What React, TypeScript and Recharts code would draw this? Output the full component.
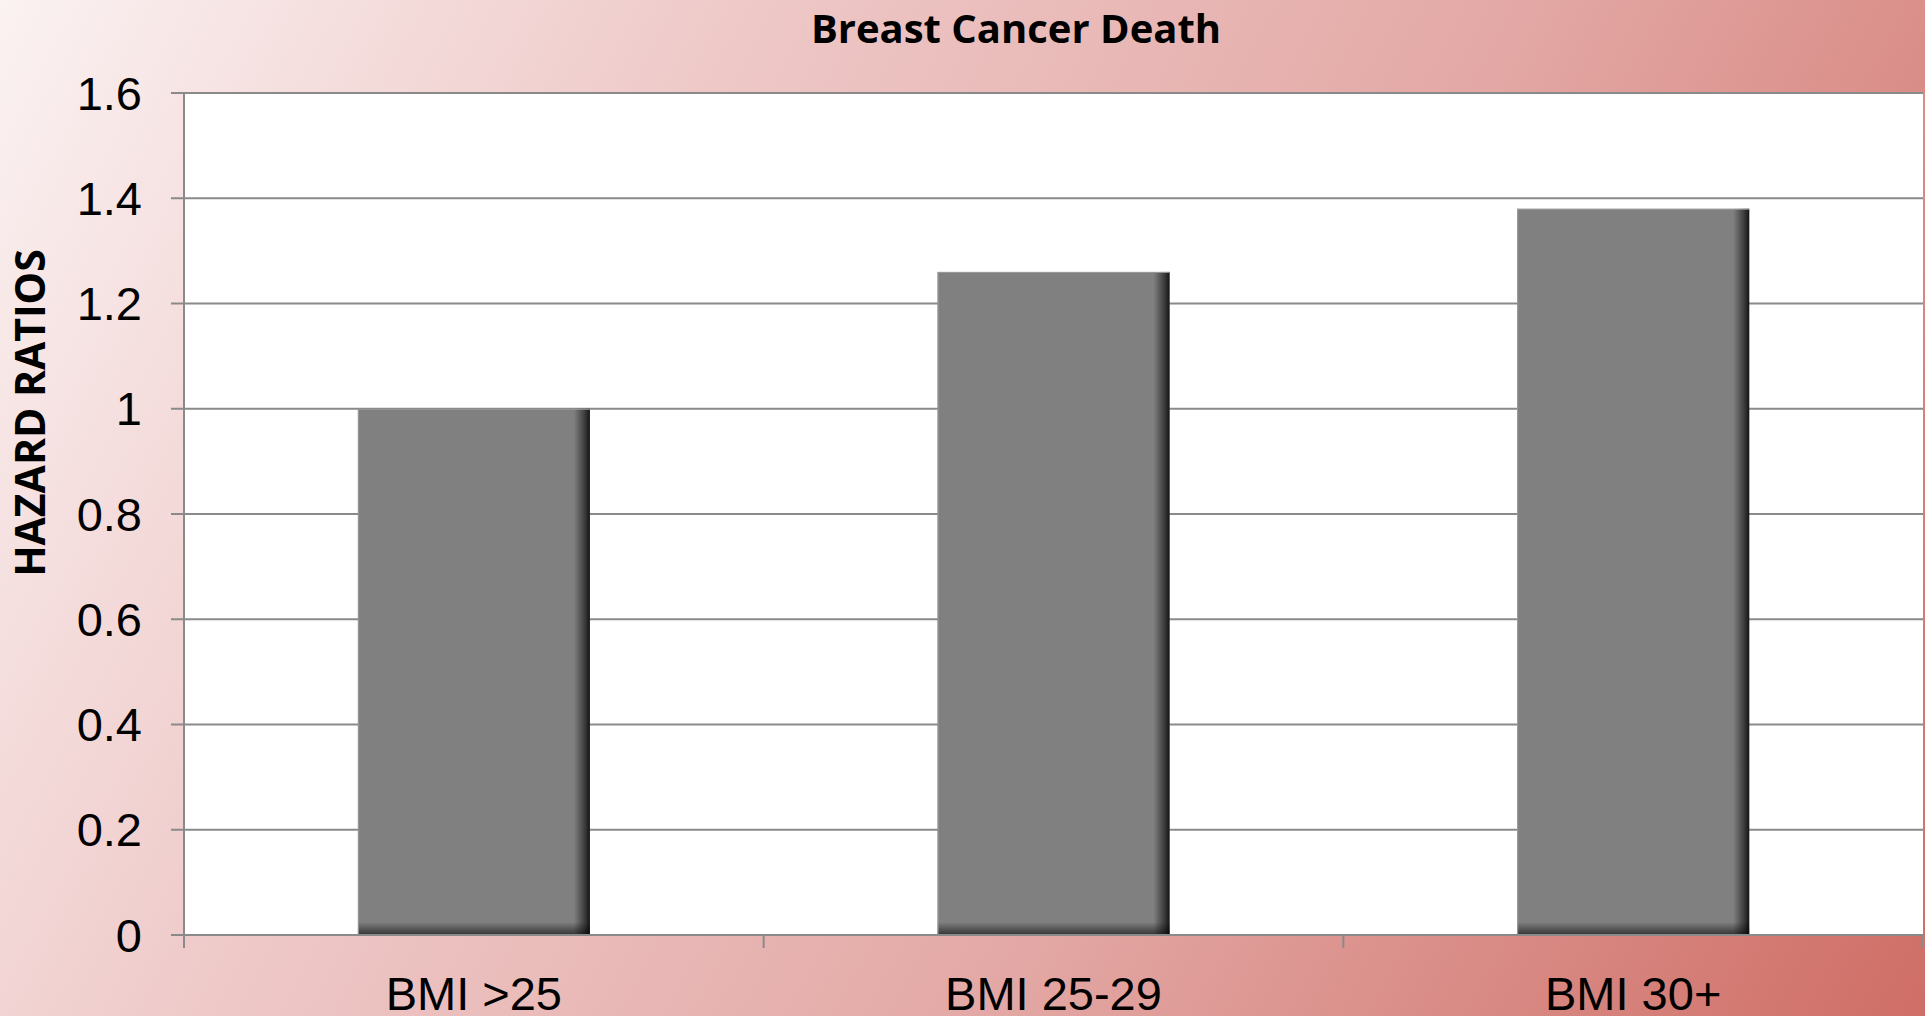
import { BarChart, Bar, XAxis, YAxis, CartesianGrid, Label } from "recharts";

const categories = ["BMI >25", "BMI 25-29", "BMI 30+"];
const hazardRatios = [1.0, 1.26, 1.38];
const yTicks = [0, 0.2, 0.4, 0.6, 0.8, 1, 1.2, 1.4, 1.6];

const data = categories.map((name, i) => ({ name, value: hazardRatios[i] }));

const W = 1925;
const H = 1016;
const Y_AXIS_W = 184;
const RIGHT = 2;
const BAND = (W - Y_AXIS_W - RIGHT) / categories.length;
const AXIS_GRAY = "#8a8a8a";

function ShadedBar(props: any) {
    const { x, y, width, height } = props;
    if (!height || height <= 0) return null;
    return (
        <g>
            <rect x={x} y={y} width={width} height={height} fill="#808080" />
            <rect x={x + width - 16} y={y} width={16} height={height} fill="url(#barRight)" />
            <rect x={x} y={y + height - 13} width={width} height={13} fill="url(#barBottom)" />
            <line x1={x + 0.5} x2={x + 0.5} y1={y} y2={y + height} stroke="#9a9a9a" strokeWidth={1} />
            <line x1={x} x2={x + width} y1={y + 0.5} y2={y + 0.5} stroke="#9a9a9a" strokeWidth={1} />
        </g>
    );
}

function CategoryTick(props: any) {
    const { x, y, payload, index } = props;
    const axisY = y - 13 - 29;
    const left = x - BAND / 2;
    return (
        <g>
            <line x1={left} x2={left} y1={axisY} y2={axisY + 13} stroke={AXIS_GRAY} strokeWidth={2} />
            {index === categories.length - 1 && (
                <line x1={x + BAND / 2 - 1} x2={x + BAND / 2 - 1} y1={axisY} y2={axisY + 13} stroke={AXIS_GRAY} strokeWidth={2} />
            )}
            <text
                x={x}
                y={y}
                dy="0.71em"
                textAnchor="middle"
                fill="#000"
                fontSize={47}
                fontFamily="'Liberation Sans', Arial, sans-serif"
            >
                {payload.value}
            </text>
        </g>
    );
}

export default function App() {
    return (
        <div
            style={{
                position: "absolute",
                left: 0,
                top: 0,
                width: W,
                height: H,
                overflow: "hidden",
                background: "linear-gradient(118deg, #fbf2f2 0%, #eec9c8 30%, #e3a8a5 62%, #cf6e66 100%)",
            }}
        >
            <div
                style={{
                    position: "absolute",
                    left: 0,
                    top: 8,
                    width: 2032,
                    textAlign: "center",
                    fontFamily: "'Open Sans', sans-serif",
                    fontWeight: 700,
                    fontSize: 40,
                    lineHeight: "40px",
                    color: "#000",
                }}
            >
                Breast Cancer Death
            </div>
            <BarChart
                width={W}
                height={H}
                data={data}
                margin={{ top: 93, right: RIGHT, bottom: 0, left: 0 }}
                barCategoryGap="30%"
                style={{ position: "absolute", left: 0, top: 0 }}
            >
                <defs>
                    <linearGradient id="barRight" x1="0" y1="0" x2="1" y2="0">
                        <stop offset="0%" stopColor="#000" stopOpacity={0} />
                        <stop offset="70%" stopColor="#000" stopOpacity={0.55} />
                        <stop offset="100%" stopColor="#000" stopOpacity={0.85} />
                    </linearGradient>
                    <linearGradient id="barBottom" x1="0" y1="0" x2="0" y2="1">
                        <stop offset="0%" stopColor="#000" stopOpacity={0} />
                        <stop offset="100%" stopColor="#000" stopOpacity={0.6} />
                    </linearGradient>
                </defs>
                <CartesianGrid vertical={false} stroke={AXIS_GRAY} strokeWidth={2} fill="#ffffff" fillOpacity={1} />
                <XAxis
                    dataKey="name"
                    height={81}
                    interval={0}
                    tickLine={false}
                    tickSize={13}
                    tickMargin={29}
                    axisLine={{ stroke: AXIS_GRAY, strokeWidth: 2 }}
                    tick={<CategoryTick />}
                />
                <YAxis
                    width={Y_AXIS_W}
                    domain={[0, 1.6]}
                    ticks={yTicks}
                    interval={0}
                    tickSize={13}
                    tickMargin={29}
                    axisLine={{ stroke: AXIS_GRAY, strokeWidth: 2 }}
                    tickLine={{ stroke: AXIS_GRAY, strokeWidth: 2 }}
                    tick={{ fill: "#000", fontSize: 47, fontFamily: "'Liberation Sans', Arial, sans-serif" }}
                >
                    <Label
                        content={() => (
                            <text
                                x={45}
                                y={413}
                                transform="rotate(-90, 45, 413)"
                                textAnchor="middle"
                                fill="#000"
                                fontSize={41}
                                fontWeight={700}
                                fontFamily="'Open Sans', sans-serif"
                            >
                                HAZARD RATIOS
                            </text>
                        )}
                    />
                </YAxis>
                <Bar dataKey="value" shape={<ShadedBar />} isAnimationActive={false} />
            </BarChart>
        </div>
    );
}
